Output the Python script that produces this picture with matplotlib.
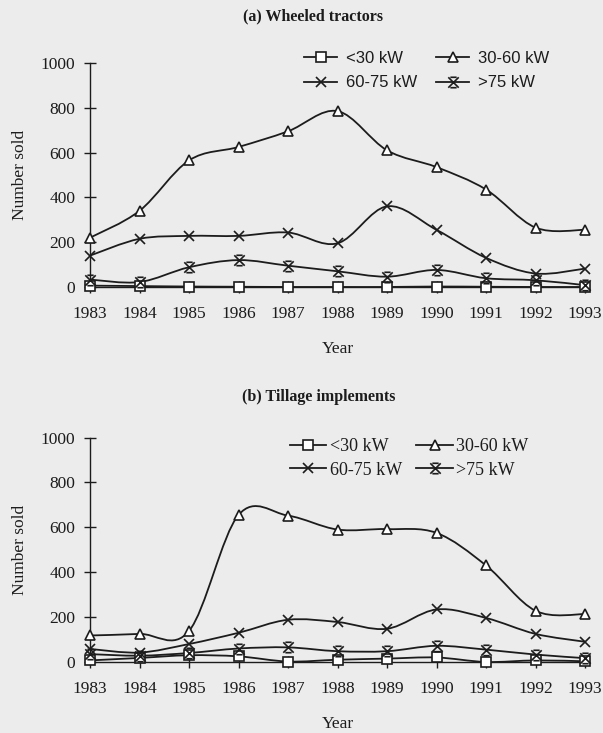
import numpy as np
import matplotlib
matplotlib.use('Agg')
import matplotlib.pyplot as plt
from matplotlib.path import Path
from matplotlib.patches import PathPatch
from matplotlib.lines import Line2D

years = [1983, 1984, 1985, 1986, 1987, 1988, 1989, 1990, 1991, 1992, 1993]
series_labels = ['<30 kW', '30-60 kW', '60-75 kW', '>75 kW']

# (a) wheeled tractors
lt30_a = [6, 4, 2, 1, 0, 0, 0, 2, 1, 0, 0]
kw30_60_a = [220, 340, 565, 625, 695, 785, 610, 535, 435, 265, 255]
kw60_75_a = [140, 215, 228, 228, 243, 195, 360, 255, 130, 60, 82]
gt75_a = [33, 22, 88, 120, 95, 70, 46, 76, 39, 30, 8]

# (b) tillage implements
lt30_b = [7, 18, 30, 25, 2, 10, 15, 20, 0, 7, 3]
kw30_60_b = [118, 125, 138, 655, 652, 590, 592, 575, 430, 228, 213]
kw60_75_b = [58, 42, 80, 130, 188, 178, 148, 234, 196, 125, 90]
gt75_b = [35, 28, 40, 60, 65, 48, 48, 72, 55, 33, 17]

INK = '#1c1c1c'
BG = '#ececec'
SERIF = 'Liberation Serif'
SANS = 'Liberation Sans'

# cross with bars on top and bottom, for >75 kW
star = Path([(-1, -1), (1, 1), (-1, 1), (1, -1), (-0.6, 1), (0.6, 1), (-0.6, -1), (0.6, -1)],
            [Path.MOVETO, Path.LINETO] * 4)
markers = ['s', '^', 'x', star]
msizes = [7, 7.5, 7, 7.5]


def smooth_path(x, y):
    # catmull-rom style bezier through the points (like spreadsheet smoothed lines)
    x = np.asarray(x, float)
    y = np.asarray(y, float)
    n = len(x)
    verts = [(x[0], y[0])]
    codes = [Path.MOVETO]
    for i in range(n - 1):
        a = i - 1 if i > 0 else i
        d = i + 2 if i + 2 < n else i + 1
        c1 = (x[i] + (x[i + 1] - x[a]) / 6, y[i] + (y[i + 1] - y[a]) / 6)
        c2 = (x[i + 1] - (x[d] - x[i]) / 6, y[i + 1] - (y[d] - y[i]) / 6)
        verts += [c1, c2, (x[i + 1], y[i + 1])]
        codes += [Path.CURVE4] * 3
    return Path(verts, codes)


def draw_panel(ax, data):
    for vals, m, ms in zip(data, markers, msizes):
        ax.add_patch(PathPatch(smooth_path(years, vals), fill=False, edgecolor=INK,
                               lw=1.3, clip_on=False, zorder=2))
        ax.plot(years, vals, ls='none', marker=m, ms=ms, mfc='white' if m in ('s', '^') else 'none',
                mec=INK, mew=1.2, clip_on=False, zorder=3)
    ax.set_xlim(1983, 1993)
    ax.set_ylim(0, 1000)
    ax.set_xticks(years)
    ax.set_yticks(range(0, 1001, 200))
    ax.set_facecolor('none')
    for s in ['top', 'right']:
        ax.spines[s].set_visible(False)
    for s in ['left', 'bottom']:
        ax.spines[s].set_color(INK)
        ax.spines[s].set_linewidth(1.0)
    ax.tick_params(direction='inout', length=8, width=1, color=INK, labelcolor=INK, labelsize=12.5)
    ax.tick_params(axis='x', pad=10)
    ax.tick_params(axis='y', pad=6.5)
    for lab in ax.get_xticklabels() + ax.get_yticklabels():
        lab.set_fontfamily(SERIF)
    ax.set_xlabel('Year', fontsize=12.5, family=SERIF, color=INK)
    ax.set_ylabel('Number sold', fontsize=12.5, family=SERIF, color=INK)
    ax.xaxis.set_label_coords(0.5, -0.24)
    ax.yaxis.set_label_coords(-0.126, 0.5)


def legend_parts():
    # two rows filled row-wise like the original: <30, 30-60 / 60-75, >75
    hs = [Line2D([], [], color=INK, lw=1.3, marker=m, ms=ms,
                 mfc='white' if m in ('s', '^') else 'none', mec=INK, mew=1.2)
          for m, ms in zip(markers, msizes)]
    order = [0, 2, 1, 3]
    return [hs[i] for i in order], [series_labels[i] for i in order]


fig = plt.figure(figsize=(6.03, 7.33), dpi=100, facecolor=BG)

ax1 = fig.add_axes([0.1493, 0.6085, 0.8209, 0.3056])
draw_panel(ax1, [lt30_a, kw30_60_a, kw60_75_a, gt75_a])
h, l = legend_parts()
ax1.legend(h, l, ncol=2, loc='upper left',
           bbox_to_anchor=(0.504, 0.930), bbox_transform=fig.transFigure,
           frameon=False, borderpad=0, borderaxespad=0, handlelength=2.0,
           handletextpad=0.5, columnspacing=1.15, labelspacing=0.55,
           prop={'family': SANS, 'size': 12}, labelcolor=INK)

ax2 = fig.add_axes([0.1493, 0.0969, 0.8209, 0.3062])
draw_panel(ax2, [lt30_b, kw30_60_b, kw60_75_b, gt75_b])
h, l = legend_parts()
ax2.legend(h, l, ncol=2, loc='upper left',
           bbox_to_anchor=(0.481, 0.402), bbox_transform=fig.transFigure,
           frameon=False, borderpad=0, borderaxespad=0, handlelength=2.0,
           handletextpad=0.2, columnspacing=0.8, labelspacing=0.35,
           prop={'family': SERIF, 'size': 13}, labelcolor=INK)

fig.text(0.519, 0.977, '(a) Wheeled tractors', ha='center', va='center',
         family=SERIF, fontweight='bold', fontsize=11.5, color=INK)
fig.text(0.529, 0.4584, '(b) Tillage implements', ha='center', va='center',
         family=SERIF, fontweight='bold', fontsize=11.5, color=INK)

fig.savefig('out.png', dpi=100, facecolor=BG)
